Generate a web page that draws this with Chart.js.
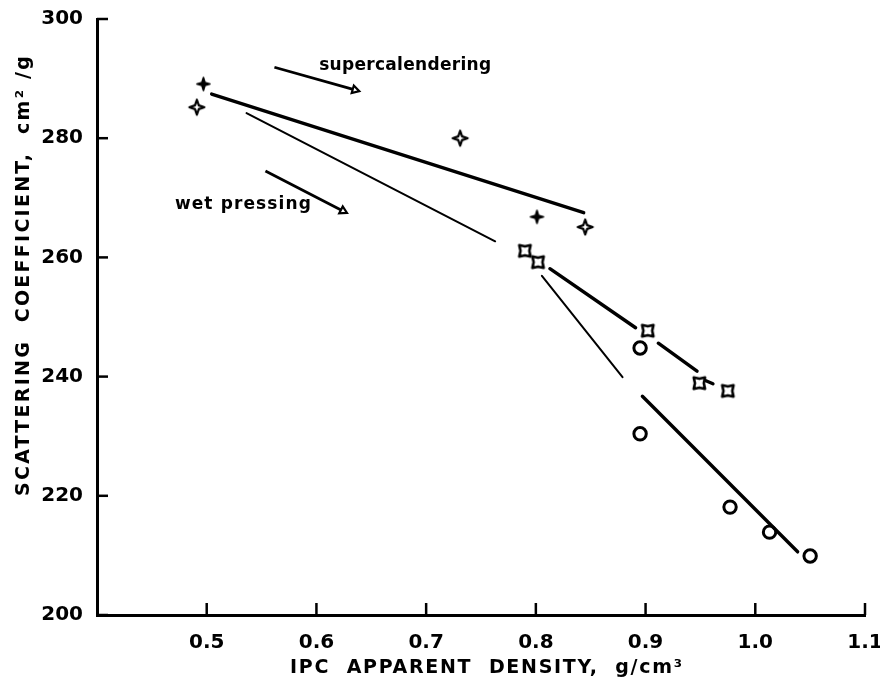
<!DOCTYPE html>
<html>
<head>
<meta charset="utf-8">
<script src="https://cdn.jsdelivr.net/npm/chart.js@4.4.0/dist/chart.umd.min.js"></script>
<style>
  html, body { margin: 0; padding: 0; background: #fff; }
  #wrap { width: 880px; height: 683px; }
</style>
</head>
<body>
<div id="wrap"><canvas id="chart" width="880" height="683"></canvas></div>
<script>
// solid four-point stars
const solidDensity = [0.497, 0.801];
const solidScatter = [289.1, 266.8];
// open four-point stars
const openDensity = [0.491, 0.731, 0.845];
const openScatter = [285.2, 280.0, 265.1];
// boxed stars
const boxDensity = [0.790, 0.802, 0.902, 0.949, 0.975];
const boxScatter = [261.1, 259.2, 247.7, 238.9, 237.6];
// circles
const circleDensity = [0.895, 0.895, 0.977, 1.013, 1.050];
const circleScatter = [244.8, 230.4, 218.1, 213.9, 209.9];

// hand drawn fit lines, [start, end]
const fitDensity = [[0.5045, 0.8436], [0.5363, 0.7629], [0.8055, 0.8790], [0.8128, 0.8909], [0.9116, 0.9469], [0.9550, 0.9614], [0.8971, 1.0386]];
const fitScatter = [[287.4, 267.5], [284.2, 262.7], [256.9, 239.9], [258.1, 248.2], [245.6, 240.9], [239.3, 238.8], [236.7, 210.6]];
const fitThin = [false, true, true, false, false, false, false];

// arrows
const arrowLabels = ["supercalendering", "wet pressing"];
const arrowDensity = [[0.5617, 0.6351], [0.5535, 0.6242]];
const arrowScatter = [[291.9, 288.1], [274.5, 267.8]];
const labelDensity = [0.6025, 0.471];
const labelScatter = [292.2, 268.9];

const xTickValues = [0.5, 0.6, 0.7, 0.8, 0.9, 1.0, 1.1];
const yTickValues = [200, 220, 240, 260, 280, 300];

const FONT = "'DejaVu Sans', sans-serif";

const toPoints = (xs, ys) => xs.map((v, i) => ({ x: v, y: ys[i] }));

// small canvases used as point styles
const makeStar = (R, r, rot, filled, lw) => {
  const size = Math.ceil(R * 2 + lw + 4);
  const c = document.createElement("canvas");
  c.width = size; c.height = size;
  const g = c.getContext("2d");
  g.translate(size / 2, size / 2);
  g.rotate(rot);
  g.beginPath();
  for (let k = 0; k < 8; k++) {
    const a = k * Math.PI / 4 - Math.PI / 2;
    const rad = k % 2 === 0 ? R : r;
    const px = Math.cos(a) * rad, py = Math.sin(a) * rad;
    if (k === 0) g.moveTo(px, py); else g.lineTo(px, py);
  }
  g.closePath();
  g.lineJoin = "round";
  g.lineWidth = lw;
  g.strokeStyle = "#000";
  if (filled) { g.fillStyle = "#000"; g.fill(); }
  g.stroke();
  return c;
};

const solidStar = makeStar(6.5, 2.2, 0, true, 1.6);
const openStar = makeStar(7.5, 2.7, 0, false, 2.2);
const boxStar = makeStar(8, 4.4, Math.PI / 4, false, 2.6);

const datasets = [];
fitDensity.forEach((xs, i) => {
  datasets.push({
    data: toPoints(xs, fitScatter[i]),
    showLine: true,
    borderColor: "#000",
    borderWidth: fitThin[i] ? 2 : 3.4,
    pointRadius: 0,
    borderCapStyle: "round"
  });
});
arrowDensity.forEach((xs, i) => {
  datasets.push({
    data: toPoints(xs, arrowScatter[i]),
    showLine: true,
    borderColor: "#000",
    borderWidth: 2.8,
    pointRadius: [0, 4.5],
    pointStyle: "triangle",
    rotation: i === 0 ? 106 : 117,
    pointBackgroundColor: "#fff",
    pointBorderColor: "#000",
    pointBorderWidth: 2.2
  });
});
datasets.push({ data: toPoints(solidDensity, solidScatter), pointStyle: solidStar, pointRadius: 6 });
datasets.push({ data: toPoints(openDensity, openScatter), pointStyle: openStar, pointRadius: 7 });
datasets.push({ data: toPoints(boxDensity, boxScatter), pointStyle: boxStar, pointRadius: 8 });
datasets.push({
  data: toPoints(circleDensity, circleScatter),
  pointStyle: "circle",
  pointRadius: 6.2,
  pointBorderWidth: 3,
  pointBorderColor: "#000",
  pointBackgroundColor: "rgba(0,0,0,0)"
});

// draw text with spacing stretched to a target width
const spacedText = (ctx, text, font, cx, cy, width, rotate, alignLeft) => {
  ctx.save();
  ctx.font = font;
  ctx.letterSpacing = "0px";
  const w0 = ctx.measureText(text).width;
  const sp = Math.max(0, (width - w0) / (text.length - 1));
  ctx.letterSpacing = sp.toFixed(2) + "px";
  ctx.translate(cx, cy);
  if (rotate) ctx.rotate(-Math.PI / 2);
  ctx.fillStyle = "#000";
  ctx.textBaseline = "middle";
  ctx.textAlign = "left";
  ctx.fillText(text, alignLeft ? 0 : -width / 2, 0);
  ctx.restore();
};

const decorations = {
  id: "decorations",
  afterDatasetsDraw(chart) {
    const { ctx, scales: { x, y }, chartArea: a } = chart;
    ctx.save();
    ctx.strokeStyle = "#000";
    ctx.lineWidth = 2.5;
    y.ticks.forEach(t => {
      const py = y.getPixelForValue(t.value);
      ctx.beginPath(); ctx.moveTo(a.left, py); ctx.lineTo(a.left + 11, py); ctx.stroke();
    });
    x.ticks.forEach(t => {
      const px = x.getPixelForValue(t.value);
      ctx.beginPath(); ctx.moveTo(px, a.bottom); ctx.lineTo(px, a.bottom - 12); ctx.stroke();
    });
    ctx.restore();

    arrowLabels.forEach((txt, i) => {
      spacedText(ctx, txt, "bold 17px " + FONT,
        x.getPixelForValue(labelDensity[i]), y.getPixelForValue(labelScatter[i]),
        i === 0 ? 172 : 136, false, true);
    });

    spacedText(ctx, "SCATTERING  COEFFICIENT,  cm² /g", "bold 19px " + FONT, 24, 276, 440, true);
    spacedText(ctx, "IPC  APPARENT  DENSITY,  g/cm³", "bold 19px " + FONT, 486, 668, 392, false);
  }
};

new Chart(document.getElementById("chart"), {
  type: "scatter",
  data: { datasets },
  options: {
    responsive: false,
    animation: false,
    layout: { padding: { top: 19, right: 15, left: 0, bottom: 0 } },
    plugins: { legend: { display: false }, tooltip: { enabled: false } },
    scales: {
      x: {
        type: "linear",
        min: 0.4,
        max: 1.1,
        afterBuildTicks: s => { s.ticks = xTickValues.map(v => ({ value: v })); },
        afterFit: s => { s.height = 68; s.paddingLeft = 0; s.paddingRight = 0; },
        grid: { display: false },
        border: { display: true, color: "#000", width: 3 },
        ticks: {
          color: "#000",
          padding: 8,
          maxRotation: 0,
          font: { family: FONT, size: 20, weight: "bold" },
          callback: v => Number(v).toFixed(1)
        }
      },
      y: {
        min: 200,
        max: 300,
        afterBuildTicks: s => { s.ticks = yTickValues.map(v => ({ value: v })); },
        afterFit: s => { s.width = 97; s.paddingTop = 0; s.paddingBottom = 0; },
        grid: { display: false },
        border: { display: true, color: "#000", width: 3 },
        ticks: {
          color: "#000",
          padding: 6,
          font: { family: FONT, size: 20, weight: "bold" }
        }
      }
    }
  },
  plugins: [decorations]
});
</script>
</body>
</html>
